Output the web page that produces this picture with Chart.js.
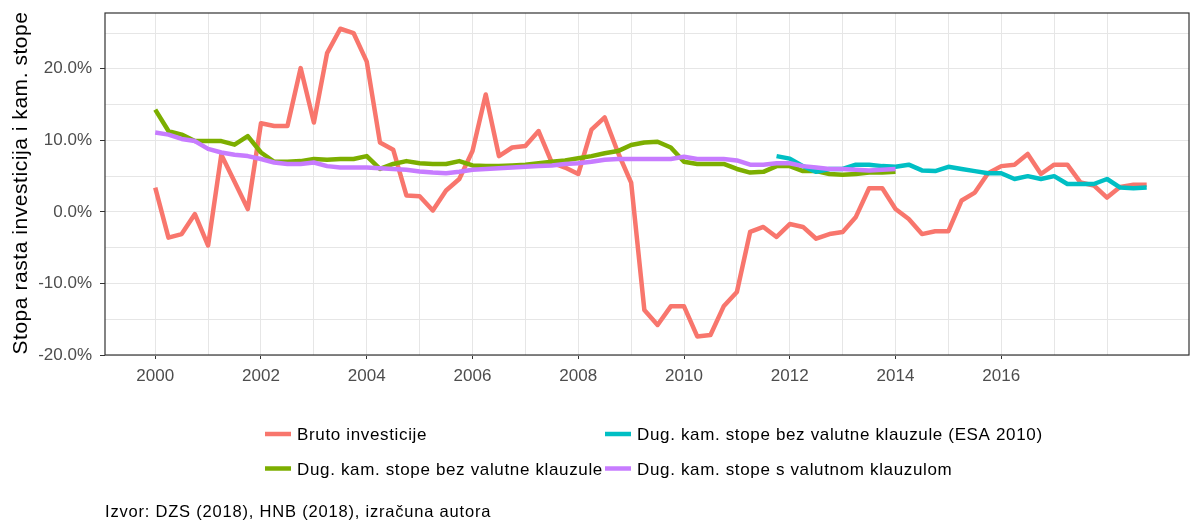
<!DOCTYPE html>
<html>
<head>
<meta charset="utf-8">
<script src="https://cdn.jsdelivr.net/npm/chart.js@4.4.1/dist/chart.umd.min.js"></script>
<style>
  html, body { margin: 0; padding: 0; background: #ffffff; }
  #wrap { width: 1196px; height: 523px; position: relative; }
</style>
</head>
<body>
<div id="wrap"><canvas id="c" width="1196" height="523"></canvas></div>
<script>
// ---- data (quarterly, % growth / rate) ----
const brutoStart = 2000;
const bruto = [
  3.4, -3.6, -3.1, -0.3,
  -4.7, 8.0, 4.2, 0.4,
  12.4, 12.0, 12.0, 20.1,
  12.5, 22.2, 25.6, 25.0,
  21.0, 9.7, 8.7, 2.3,
  2.2, 0.2, 3.0, 4.6,
  8.5, 16.4, 7.8, 9.0,
  9.2, 11.3, 6.9, 6.2,
  5.3, 11.5, 13.2, 8.3,
  4.1, -13.7, -15.8, -13.2,
  -13.2, -17.4, -17.2, -13.2,
  -11.2, -2.8, -2.1, -3.5,
  -1.7, -2.1, -3.75, -3.1,
  -2.8, -0.7, 3.3, 3.3,
  0.4, -1.0, -3.1, -2.7,
  -2.7, 1.6, 2.7, 5.4,
  6.4, 6.6, 8.1, 5.3,
  6.6, 6.6, 4.1, 3.7,
  2.0, 3.5, 3.8, 3.8
];

const bezKlauzuleStart = 2000;
const bezKlauzule = [
  14.3, 11.3, 10.8, 9.9,
  9.9, 9.9, 9.4, 10.6,
  8.3, 7.0, 7.0, 7.1,
  7.4, 7.3, 7.4, 7.4,
  7.8, 6.0, 6.7, 7.1,
  6.8, 6.7, 6.7, 7.1,
  6.5, 6.4, 6.4, 6.5,
  6.6, 6.8, 7.0, 7.2,
  7.5, 7.8, 8.2, 8.5,
  9.35, 9.7, 9.8, 9.0,
  7.0, 6.7, 6.7, 6.7,
  6.0, 5.5, 5.6, 6.4,
  6.4, 5.7, 5.7, 5.3,
  5.2, 5.3, 5.5, 5.5,
  5.6
];

const esa2010Start = 2011.75;
const esa2010 = [
  7.8,
  7.45, 6.4, 5.6, 6.0,
  6.0, 6.6, 6.6, 6.4,
  6.3, 6.6, 5.8, 5.7,
  6.3, 6.0, 5.7, 5.4,
  5.4, 4.6, 5.0, 4.6,
  5.0, 3.9, 3.9, 3.9,
  4.6, 3.4, 3.3, 3.4
];

const sKlauzulomStart = 2000;
const sKlauzulom = [
  11.1, 10.8, 10.2, 9.9,
  8.8, 8.3, 8.0, 7.8,
  7.4, 6.9, 6.7, 6.7,
  6.9, 6.4, 6.2, 6.2,
  6.2, 6.1, 6.0, 5.9,
  5.65, 5.5, 5.4, 5.6,
  5.9, 6.0, 6.1, 6.2,
  6.3, 6.4, 6.5, 6.7,
  6.8, 7.0, 7.3, 7.4,
  7.4, 7.4, 7.4, 7.4,
  7.7, 7.4, 7.4, 7.4,
  7.2, 6.6, 6.6, 6.8,
  6.8, 6.4, 6.2, 6.0,
  6.0, 5.9, 5.8, 5.9,
  6.0
];

const seriesLabels = [
  'Bruto investicije',
  'Dug. kam. stope bez valutne klauzule',
  'Dug. kam. stope bez valutne klauzule (ESA 2010)',
  'Dug. kam. stope s valutnom klauzulom'
];
const seriesColors = ['#F8766D', '#7CAE00', '#00BFC4', '#C77CFF'];

const xGridYears = [2000, 2001, 2002, 2003, 2004, 2005, 2006, 2007, 2008, 2009,
                    2010, 2011, 2012, 2013, 2014, 2015, 2016, 2017, 2018];
const xLabelYears = [2000, 2002, 2004, 2006, 2008, 2010, 2012, 2014, 2016];
const yGridValues = [-20, -15, -10, -5, 0, 5, 10, 15, 20, 25];
const yLabelValues = [-20, -10, 0, 10, 20];
const captionText = 'Izvor: DZS (2018), HNB (2018), izračuna autora';
const yTitle = 'Stopa rasta investicija i kam. stope';

function toPoints(start, arr) {
  return arr.map((v, i) => ({ x: start + i / 4, y: v }));
}

const FONT = '"Liberation Sans", Arial, sans-serif';

function zeroScalePadding(scale) {
  scale.paddingTop = 0;
  scale.paddingBottom = 0;
  scale.paddingLeft = 0;
  scale.paddingRight = 0;
}

const panelBorder = {
  id: 'panelBorder',
  afterDatasetsDraw(chart) {
    const { ctx, chartArea: a } = chart;
    ctx.save();
    ctx.strokeStyle = '#333333';
    ctx.lineWidth = 1.2;
    ctx.strokeRect(a.left, a.top, a.right - a.left, a.bottom - a.top);
    ctx.restore();
  }
};

const textExtras = {
  id: 'textExtras',
  afterDraw(chart) {
    const ctx = chart.ctx;
    ctx.save();
    // legend (two columns, filled column by column)
    const pos = [
      { x: 265, y: 435.5 },
      { x: 265, y: 470 },
      { x: 605, y: 435.5 },
      { x: 605, y: 470 }
    ];
    const order = [0, 1, 2, 3];
    ctx.font = '17px ' + FONT;
    ctx.letterSpacing = '0.65px';
    ctx.textBaseline = 'middle';
    ctx.textAlign = 'left';
    order.forEach((di, k) => {
      const ds = chart.data.datasets[di];
      const p = pos[k];
      ctx.strokeStyle = ds.borderColor;
      ctx.lineWidth = 4.5;
      ctx.beginPath();
      ctx.moveTo(p.x, p.y - 1.5);
      ctx.lineTo(p.x + 26, p.y - 1.5);
      ctx.stroke();
      ctx.fillStyle = '#000000';
      ctx.fillText(ds.label, p.x + 32, p.y);
    });
    // caption
    ctx.font = '16.5px ' + FONT;
    ctx.letterSpacing = '0.8px';
    ctx.textBaseline = 'alphabetic';
    ctx.fillStyle = '#000000';
    ctx.fillText(captionText, 105, 516.5);
    // y axis title
    ctx.font = '21px ' + FONT;
    ctx.letterSpacing = '0.55px';
    ctx.textAlign = 'center';
    ctx.textBaseline = 'middle';
    ctx.translate(21.5, 183);
    ctx.rotate(-Math.PI / 2);
    ctx.fillText(yTitle, 0, 0);
    ctx.restore();
  }
};

const datasets = [
  { label: seriesLabels[0], data: toPoints(brutoStart, bruto), borderColor: seriesColors[0], order: 4 },
  { label: seriesLabels[1], data: toPoints(bezKlauzuleStart, bezKlauzule), borderColor: seriesColors[1], order: 3 },
  { label: seriesLabels[2], data: toPoints(esa2010Start, esa2010), borderColor: seriesColors[2], order: 2 },
  { label: seriesLabels[3], data: toPoints(sKlauzulomStart, sKlauzulom), borderColor: seriesColors[3], order: 1 }
].map(d => Object.assign(d, {
  backgroundColor: d.borderColor,
  borderWidth: 4.5,
  pointRadius: 0,
  tension: 0,
  fill: false,
  borderJoinStyle: 'round',
  borderCapStyle: 'butt'
}));

new Chart(document.getElementById('c'), {
  type: 'line',
  data: { datasets },
  options: {
    responsive: false,
    animation: false,
    devicePixelRatio: 1,
    layout: { padding: { left: 0, top: 13, right: 7, bottom: 138 } },
    plugins: { legend: { display: false }, tooltip: { enabled: false } },
    scales: {
      x: {
        type: 'linear',
        min: 1999.05,
        max: 2019.55,
        afterBuildTicks(scale) { scale.ticks = xGridYears.map(v => ({ value: v })); },
        afterFit(scale) { scale.height = 30; zeroScalePadding(scale); },
        grid: {
          color: '#e6e6e6',
          lineWidth: 1,
          drawTicks: true,
          tickLength: 4,
          tickColor: (c) => (c.tick && xLabelYears.includes(c.tick.value)) ? '#333333' : 'rgba(0,0,0,0)'
        },
        border: { display: false },
        ticks: {
          autoSkip: false,
          maxRotation: 0,
          padding: 7,
          color: '#4d4d4d',
          font: { family: FONT, size: 17 },
          callback: (v) => xLabelYears.includes(v) ? String(v) : ''
        }
      },
      y: {
        type: 'linear',
        min: -20,
        max: 27.8,
        afterBuildTicks(scale) { scale.ticks = yGridValues.map(v => ({ value: v })); },
        afterFit(scale) { scale.width = 105; zeroScalePadding(scale); },
        grid: {
          color: '#e6e6e6',
          lineWidth: 1,
          drawTicks: true,
          tickLength: 5,
          tickColor: (c) => (c.tick && yLabelValues.includes(c.tick.value)) ? '#333333' : 'rgba(0,0,0,0)'
        },
        border: { display: false },
        ticks: {
          autoSkip: false,
          padding: 8,
          color: '#4d4d4d',
          font: { family: FONT, size: 17 },
          callback: (v) => yLabelValues.includes(v) ? v.toFixed(1) + '%' : ''
        },
        title: { display: false }
      }
    }
  },
  plugins: [panelBorder, textExtras]
});
</script>
</body>
</html>
